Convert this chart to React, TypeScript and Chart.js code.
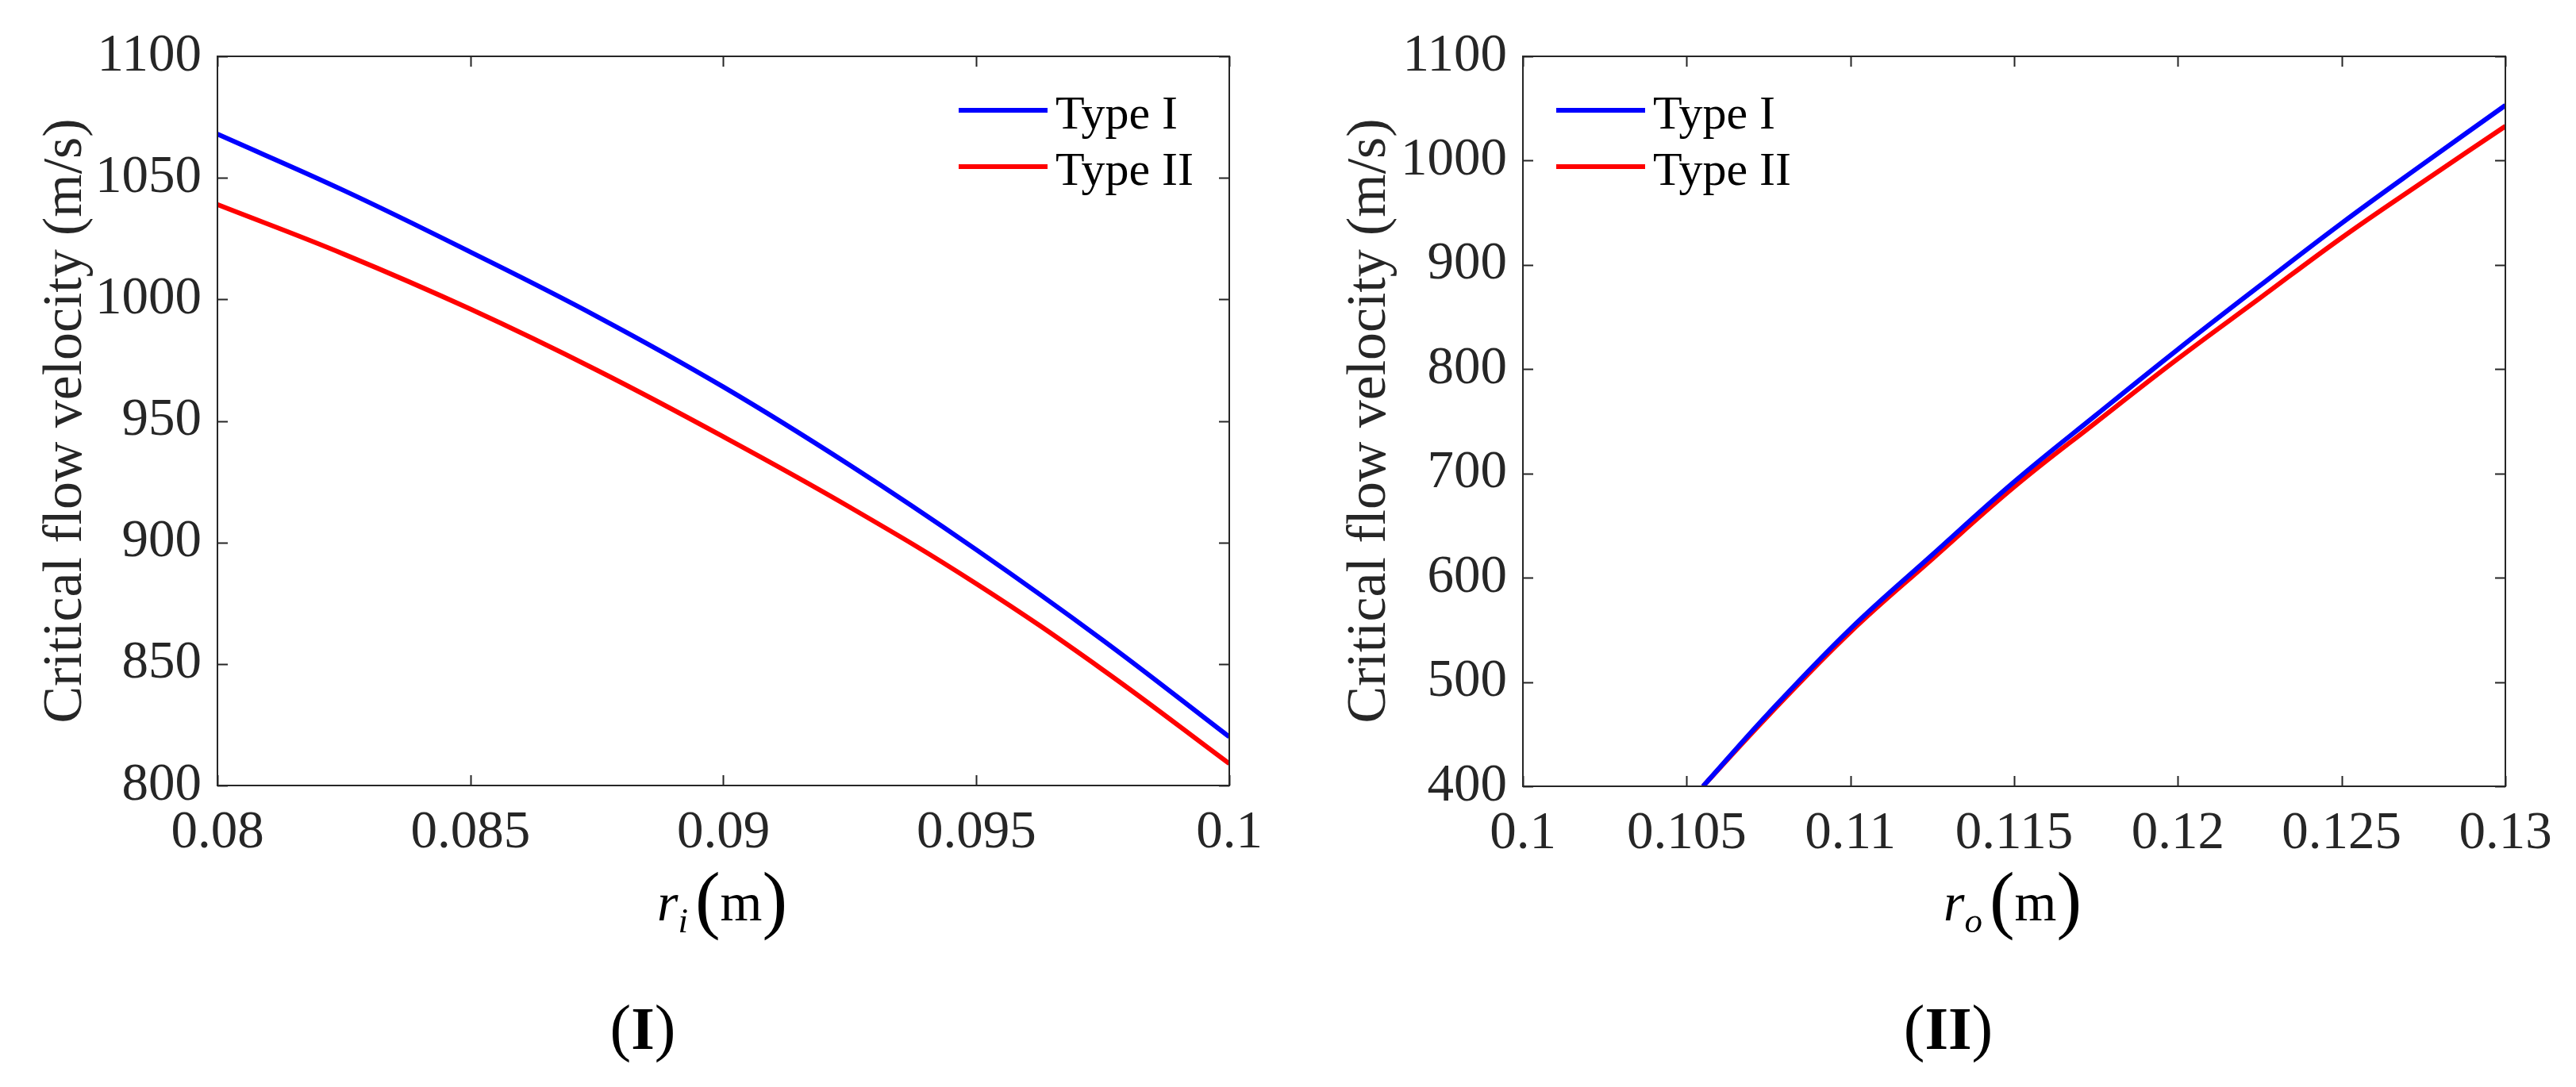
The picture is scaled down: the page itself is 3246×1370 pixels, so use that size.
import React, { useEffect, useRef } from 'react';
import { Chart, registerables } from 'chart.js';

Chart.register(...registerables);

// panel (I): critical flow velocity vs inner radius r_i
const RI = [0.08, 0.0825, 0.085, 0.0875, 0.09, 0.0925, 0.095, 0.0975, 0.1];
const RI_TYPE_I = [1068, 1044.8, 1019.5, 993, 964, 931.8, 897, 859.8, 820];
const RI_TYPE_II = [1039, 1018.6, 996, 970.9, 943.5, 914.5, 883, 847.6, 809];
const RI_X_TICKS = [0.08, 0.085, 0.09, 0.095, 0.1];
const RI_Y_TICKS = [800, 850, 900, 950, 1000, 1050, 1100];

// panel (II): critical flow velocity vs outer radius r_o
const RO = [0.1055, 0.1075, 0.11, 0.1125, 0.115, 0.1175, 0.12, 0.1225, 0.125, 0.1275, 0.13];
const RO_TYPE_I = [400, 470, 551, 622, 692, 756, 819, 880, 940, 997, 1053];
const RO_TYPE_II = [400, 468, 548, 618, 687, 749, 810, 868, 926, 980, 1033];
const RO_X_TICKS = [0.1, 0.105, 0.11, 0.115, 0.12, 0.125, 0.13];
const RO_Y_TICKS = [400, 500, 600, 700, 800, 900, 1000, 1100];

const SERIES_NAMES = ['Type I', 'Type II'];
const SERIES_COLORS = ['#0000ff', '#ff0000'];
const Y_TITLE = 'Critical flow velocity (m/s)';

const SERIF = "'Liberation Serif', 'Times New Roman', serif";
const AXIS_COLOR = '#262626';
const HALF_W = 1623;
const PAGE_H = 1370;
const PLOT_TOP = 71;
const TICK_LEN = 13;

// box, inward tick marks on all four sides and a MATLAB-like legend
const boxPlugin = {
  id: 'boxLegend',
  afterDatasetsDraw(chart: any, _args: any, opts: any) {
    const { ctx, chartArea, scales } = chart;
    const { left, right, top, bottom } = chartArea;
    ctx.save();
    ctx.strokeStyle = AXIS_COLOR;
    ctx.lineWidth = 2;
    ctx.beginPath();
    scales.x.ticks.forEach((t: any) => {
      const px = Math.round(scales.x.getPixelForValue(t.value)) + 0.5;
      ctx.moveTo(px, bottom);
      ctx.lineTo(px, bottom - TICK_LEN);
      ctx.moveTo(px, top);
      ctx.lineTo(px, top + TICK_LEN);
    });
    scales.y.ticks.forEach((t: any) => {
      const py = Math.round(scales.y.getPixelForValue(t.value)) + 0.5;
      ctx.moveTo(left, py);
      ctx.lineTo(left + TICK_LEN, py);
      ctx.moveTo(right, py);
      ctx.lineTo(right - TICK_LEN, py);
    });
    ctx.stroke();
    ctx.strokeRect(left, top, right - left, bottom - top);

    // legend
    chart.data.datasets.forEach((ds: any, i: number) => {
      const y = top + opts.y + i * 71;
      const x0 = left + opts.x;
      ctx.strokeStyle = ds.borderColor;
      ctx.lineWidth = 6;
      ctx.beginPath();
      ctx.moveTo(x0, y);
      ctx.lineTo(x0 + 112, y);
      ctx.stroke();
      ctx.fillStyle = '#000';
      ctx.font = `60px ${SERIF}`;
      ctx.textBaseline = 'alphabetic';
      ctx.textAlign = 'left';
      ctx.fillText(ds.label, x0 + 122, y + 23);
    });
    ctx.restore();
  },
};

const fmt = (v: any) => String(+Number(v).toFixed(4));

type PanelProps = {
  offsetX: number;
  xs: number[];
  typeI: number[];
  typeII: number[];
  xTicks: number[];
  yTicks: number[];
  plotLeft: number;
  plotRight: number;
  plotBottom: number;
  legendX: number;
};

function Panel(p: PanelProps) {
  const ref = useRef<HTMLCanvasElement>(null);

  useEffect(() => {
    if (!ref.current) return;
    const chart = new Chart(ref.current, {
      type: 'line',
      data: {
        datasets: [p.typeI, p.typeII].map((vals, i) => ({
          label: SERIES_NAMES[i],
          data: p.xs.map((x, j) => ({ x, y: vals[j] })),
          borderColor: SERIES_COLORS[i],
          borderWidth: 6,
          pointRadius: 0,
          tension: 0.4,
          fill: false,
        })),
      },
      options: {
        responsive: false,
        animation: false,
        devicePixelRatio: 1,
        layout: { padding: { left: 0, top: PLOT_TOP, right: HALF_W - p.plotRight, bottom: 0 } },
        plugins: {
          legend: { display: false },
          tooltip: { enabled: false },
          boxLegend: { x: p.legendX, y: 68 },
        } as any,
        scales: {
          x: {
            type: 'linear',
            min: p.xTicks[0],
            max: p.xTicks[p.xTicks.length - 1],
            afterBuildTicks: (s: any) => {
              s.ticks = p.xTicks.map((value) => ({ value }));
            },
            afterFit: (s: any) => {
              s.height = PAGE_H - p.plotBottom;
            },
            grid: { display: true, drawOnChartArea: false, drawTicks: false },
            border: { display: false },
            ticks: {
              autoSkip: false,
              maxRotation: 0,
              minRotation: 0,
              padding: 20,
              color: AXIS_COLOR,
              font: { family: SERIF, size: 67 },
              callback: fmt,
            },
          },
          y: {
            type: 'linear',
            min: p.yTicks[0],
            max: p.yTicks[p.yTicks.length - 1],
            afterBuildTicks: (s: any) => {
              s.ticks = p.yTicks.map((value) => ({ value }));
            },
            afterFit: (s: any) => {
              s.width = p.plotLeft;
            },
            grid: { display: true, drawOnChartArea: false, drawTicks: false },
            border: { display: false },
            ticks: {
              autoSkip: false,
              padding: 20,
              color: AXIS_COLOR,
              font: { family: SERIF, size: 67 },
              callback: fmt,
            },
          },
        },
      },
      plugins: [boxPlugin],
    });
    return () => chart.destroy();
  }, []);

  return (
    <canvas
      ref={ref}
      width={HALF_W}
      height={PAGE_H}
      style={{ position: 'absolute', left: p.offsetX, top: 0, width: HALF_W, height: PAGE_H }}
    />
  );
}

function YTitle({ cx, cy }: { cx: number; cy: number }) {
  return (
    <text
      x={cx}
      y={cy}
      transform={`rotate(-90 ${cx} ${cy})`}
      textAnchor="middle"
      dominantBaseline="central"
      fontFamily={SERIF}
      fontSize={70}
      textLength={762}
      lengthAdjust="spacingAndGlyphs"
      fill={AXIS_COLOR}
    >
      {Y_TITLE}
    </text>
  );
}

function AxisLabel({ cx, sub }: { cx: number; sub: string }) {
  return (
    <text x={cx} y={1160} textAnchor="middle" fontFamily={SERIF} fontSize={68} fill="#000">
      <tspan fontStyle="italic">r</tspan>
      <tspan fontStyle="italic" fontSize={45} dy={15}>{sub}</tspan>
      <tspan fontSize={95} dy={-10} dx={9}>(</tspan>
      <tspan dy={-5}>m</tspan>
      <tspan fontSize={95} dy={5}>)</tspan>
    </text>
  );
}

function PanelLabel({ cx, roman }: { cx: number; roman: string }) {
  return (
    <text x={cx} y={1322} textAnchor="middle" fontFamily={SERIF} fontSize={80} fill="#000">
      <tspan>(</tspan>
      <tspan fontWeight="bold" fontSize={76}>{roman}</tspan>
      <tspan>)</tspan>
    </text>
  );
}

export default function App() {
  const cy = (PLOT_TOP + 990) / 2;
  return (
    <div
      style={{
        position: 'absolute',
        left: 0,
        top: 0,
        width: HALF_W * 2,
        height: PAGE_H,
        background: '#fff',
        overflow: 'hidden',
      }}
    >
      <Panel
        offsetX={0}
        xs={RI}
        typeI={RI_TYPE_I}
        typeII={RI_TYPE_II}
        xTicks={RI_X_TICKS}
        yTicks={RI_Y_TICKS}
        plotLeft={274}
        plotRight={1549}
        plotBottom={990}
        legendX={934}
      />
      <Panel
        offsetX={HALF_W}
        xs={RO}
        typeI={RO_TYPE_I}
        typeII={RO_TYPE_II}
        xTicks={RO_X_TICKS}
        yTicks={RO_Y_TICKS}
        plotLeft={296}
        plotRight={1534}
        plotBottom={991}
        legendX={42}
      />
      <svg
        width={HALF_W * 2}
        height={PAGE_H}
        style={{ position: 'absolute', left: 0, top: 0, pointerEvents: 'none' }}
      >
        <YTitle cx={78} cy={cy} />
        <YTitle cx={HALF_W + 98} cy={cy} />
        <AxisLabel cx={910} sub="i" />
        <AxisLabel cx={2536} sub="o" />
        <PanelLabel cx={810} roman="I" />
        <PanelLabel cx={2455} roman="II" />
      </svg>
    </div>
  );
}
